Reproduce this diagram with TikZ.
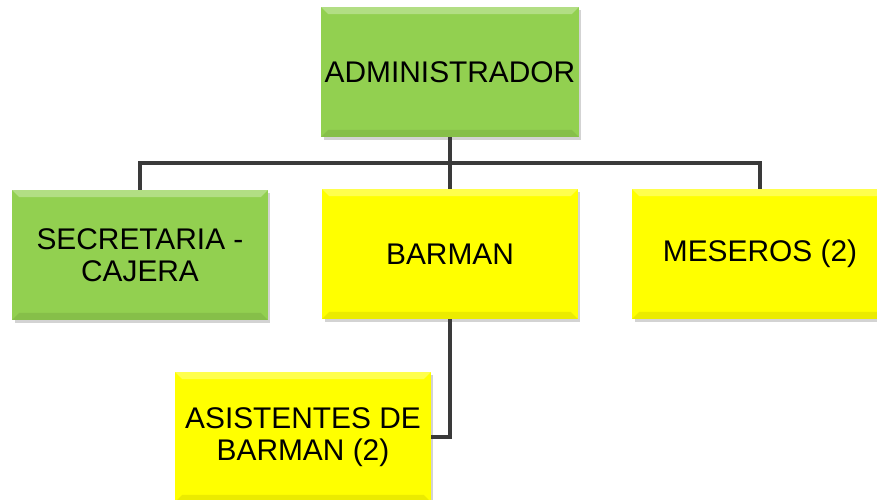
\documentclass[tikz,border=0pt]{standalone}
\usepackage{fontspec}
\setmainfont{Liberation Sans}
\usepackage{tikz}
\usetikzlibrary{shadows}
\definecolor{boxgreen}{HTML}{92D050}
\definecolor{boxyellow}{HTML}{FFFF00}
\definecolor{linegray}{HTML}{3A3A3A}

\begin{document}
\begin{tikzpicture}[x=0.02cm,y=-0.02cm,
			box node/.style={rectangle,draw=none,minimum width=5.12cm,minimum height=2.6cm,
				align=center,font=\fontsize{17}{18.5}\selectfont,inner sep=2pt,
				drop shadow={opacity=0.35,shadow xshift=0.05cm,shadow yshift=-0.06cm},
				path picture={
					\fill[white,opacity=0.3] (path picture bounding box.north west)
					-- (path picture bounding box.north east)
					-- ([xshift=-0.14cm,yshift=-0.14cm]path picture bounding box.north east)
					-- ([xshift=0.14cm,yshift=-0.14cm]path picture bounding box.north west) -- cycle;
					\fill[black,opacity=0.08] (path picture bounding box.south west)
					-- (path picture bounding box.south east)
					-- ([xshift=-0.14cm,yshift=0.14cm]path picture bounding box.south east)
					-- ([xshift=0.14cm,yshift=0.14cm]path picture bounding box.south west) -- cycle;}},
			green node/.style={box node,fill=boxgreen},
			yellow node/.style={box node,fill=boxyellow},
			link/.style={draw=linegray,line width=2.3pt}]
			
			\useasboundingbox (0,0) rectangle (877,500);
			
			\node[green node] (A) at (450,72) {ADMINISTRADOR};
			\node[green node] (B) at (140,255) {SECRETARIA -\\CAJERA};
			\node[yellow node] (C) at (450,254) {BARMAN};
			\node[yellow node] (D) at (760,254) {MESEROS (2)};
			\node[yellow node] (E) at (303,437) {ASISTENTES DE\\BARMAN (2)};
			\coordinate (J) at (450,163);
			
			\path[link]
			(A) -- (J)
			(J) -| (B)
			(J) -| (D)
			(J) -- (C)
			(C) |- (E);
		\end{tikzpicture}
\end{document}
